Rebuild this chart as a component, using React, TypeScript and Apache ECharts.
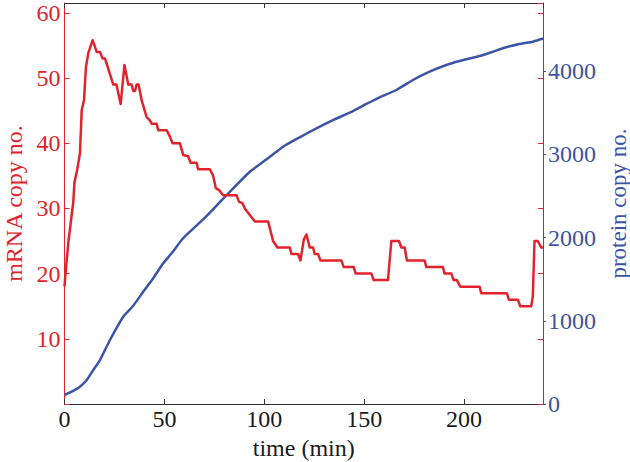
import React, { useEffect, useRef } from "react";
import * as echarts from "echarts";

// mRNA trajectory (time in min, copy number)
const mrnaTime = [0, 0.5, 2, 4.4, 5, 6.4, 7.75, 8.6, 9.75, 10.75, 11.9, 14.1, 16.1, 17.75, 19, 20.25, 21, 24.4, 26, 28.1, 30, 31.9, 33.6, 34.4, 35.25, 36.1, 37.1, 38.6, 41.1, 42.75, 43.6, 46.1, 46.9, 51.1, 52.75, 54.1, 57.75, 59.4, 61.9, 63.1, 66.1, 66.9, 72.75, 74.4, 75.75, 77.4, 79.4, 86.1, 87.4, 89.1, 90.25, 92.75, 95.25, 101.9, 104.4, 106.6, 112.75, 113.6, 116.9, 118.1, 119.75, 121.1, 122.75, 124.4, 125.25, 126.9, 128.1, 138.6, 139.75, 144.75, 145.75, 153.6, 154.75, 161.9, 163.6, 167.4, 168.6, 170.25, 171.4, 180.25, 181.1, 189.4, 190.25, 193.6, 194.75, 196.4, 198.1, 207.75, 208.6, 221.4, 222.4, 226.9, 228.1, 233.6, 234.4, 235.25, 236.9, 238.6, 239.5];
const mrnaCopies = [18, 20, 25, 31, 34, 36, 38.5, 45, 46.6, 51.7, 53.8, 55.8, 54, 54, 53, 53, 52.3, 49, 49, 46, 52, 49, 49, 48, 48, 49, 49, 46.6, 44, 43.5, 43, 43, 42, 42, 41, 40, 40, 38.2, 38, 37, 37, 36, 36, 35, 33.1, 32.8, 32, 32, 31, 30.8, 30, 29, 28, 28, 25, 24, 24, 23, 23, 22, 25.2, 26, 24, 24, 23, 23, 22, 22, 21, 21, 20, 20, 19, 19, 25, 25, 24, 24, 22, 22, 21, 21, 20, 20, 19, 19, 18, 18, 17, 17, 16, 16, 15, 15, 16.5, 25, 25, 24, 24];

// protein trajectory
const proteinTime = [0, 3.6, 7.4, 11.1, 14.4, 17.75, 22.75, 29.4, 34.4, 39.4, 44.4, 49.4, 53.6, 58.6, 62.75, 69.4, 74, 77.75, 84.4, 92.75, 101.1, 109.4, 117.75, 126.1, 134.4, 142.75, 151.1, 157.75, 166.1, 174.4, 182.75, 191.1, 197.75, 207.75, 214.4, 221.1, 227.75, 234.4, 239.5];
const proteinCopies = [108, 148, 200, 288, 408, 528, 769, 1049, 1180, 1349, 1510, 1690, 1810, 1970, 2070, 2218, 2330, 2425, 2590, 2790, 2939, 3091, 3204, 3312, 3411, 3499, 3604, 3684, 3772, 3892, 3992, 4072, 4120, 4180, 4232, 4285, 4324, 4352, 4390];

const xTicks = [0, 50, 100, 150, 200];
const mrnaTicks = [10, 20, 30, 40, 50, 60];
const proteinTicks = [0, 1000, 2000, 3000, 4000];

const RED = "#e2232c";
const BLUE = "#3b55a5";
const DARK = "#333333";
const FONT = "'Liberation Serif', 'Times New Roman', serif";

export default function App() {
  const ref = useRef<HTMLDivElement>(null);
  useEffect(() => {
    if (!ref.current) return;
    const chart = echarts.init(ref.current, null, { renderer: "svg" });
    const mrnaData = mrnaTime.map((t, i) => [t, mrnaCopies[i]]);
    const proteinData = proteinTime.map((t, i) => [t, proteinCopies[i]]);
    const xMax = 239.5;
    chart.setOption({
      animation: false,
      backgroundColor: "#ffffff",
      grid: {
        left: 64.5,
        right: 87,
        top: 3,
        bottom: 58,
        containLabel: false,
        outerBoundsMode: "none",
      },
      xAxis: [
        {
          type: "value",
          position: "bottom",
          min: 0,
          max: xMax,
          interval: 50,
          splitLine: { show: false },
          axisLine: { onZero: false, lineStyle: { color: DARK, width: 1 } },
          axisTick: { inside: true, length: 5, lineStyle: { color: DARK } },
          axisLabel: {
            color: "#1a1a1a",
            fontFamily: FONT,
            fontSize: 24,
            margin: 3,
            showMaxLabel: false,
            formatter: (v: number) => (xTicks.includes(v) ? String(v) : ""),
          },
          name: "time (min)",
          nameLocation: "middle",
          nameGap: 29,
          nameTextStyle: { color: "#1a1a1a", fontFamily: FONT, fontSize: 24 },
        },
        {
          type: "value",
          position: "top",
          min: 0,
          max: xMax,
          interval: 50,
          splitLine: { show: false },
          axisLine: { onZero: false, lineStyle: { color: DARK, width: 1 } },
          axisTick: { inside: true, length: 5, lineStyle: { color: DARK } },
          axisLabel: { show: false },
        },
      ],
      yAxis: [
        {
          type: "value",
          position: "left",
          min: 0,
          max: 61.5,
          interval: 10,
          splitLine: { show: false },
          axisLine: { show: true, onZero: false, lineStyle: { color: RED, width: 1 } },
          axisTick: { show: true, inside: true, length: 5, lineStyle: { color: RED } },
          axisLabel: {
            color: RED,
            fontFamily: FONT,
            fontSize: 24,
            margin: 4,
            showMaxLabel: false,
            formatter: (v: number) => (mrnaTicks.includes(v) ? String(v) : ""),
          },
          name: "mRNA copy no.",
          nameLocation: "middle",
          nameGap: 39,
          nameTextStyle: { color: RED, fontFamily: FONT, fontSize: 24 },
        },
        {
          type: "value",
          position: "right",
          min: 0,
          max: 4817,
          interval: 1000,
          splitLine: { show: false },
          axisLine: { show: true, onZero: false, lineStyle: { color: BLUE, width: 1 } },
          axisTick: { show: true, inside: false, length: 3, lineStyle: { color: BLUE } },
          axisLabel: {
            color: BLUE,
            fontFamily: FONT,
            fontSize: 24,
            margin: 5,
            showMaxLabel: false,
            formatter: (v: number) => (proteinTicks.includes(v) ? String(v) : ""),
          },
          name: "protein copy no.",
          nameLocation: "middle",
          nameGap: 54,
          nameTextStyle: { color: BLUE, fontFamily: FONT, fontSize: 23, lineHeight: 23 },
        },
        {
          type: "value",
          position: "right",
          min: 0,
          max: 61.5,
          interval: 10,
          splitLine: { show: false },
          axisLine: { show: false, onZero: false },
          axisTick: { show: true, inside: true, length: 5, lineStyle: { color: RED } },
          axisLabel: { show: false },
        },
      ],
      series: [
        {
          type: "line",
          name: "protein",
          xAxisIndex: 0,
          yAxisIndex: 1,
          data: proteinData,
          showSymbol: false,
          smooth: 0.15,
          lineStyle: { color: BLUE, width: 2.5 },
          itemStyle: { color: BLUE },
        },
        {
          type: "line",
          name: "mRNA",
          xAxisIndex: 0,
          yAxisIndex: 0,
          data: mrnaData,
          showSymbol: false,
          lineStyle: { color: RED, width: 2.5, join: "round" },
          itemStyle: { color: RED },
        },
      ],
    });
    return () => chart.dispose();
  }, []);
  return (
    <div
      ref={ref}
      style={{ position: "fixed", left: 0, top: 0, width: 630, height: 462 }}
    />
  );
}
